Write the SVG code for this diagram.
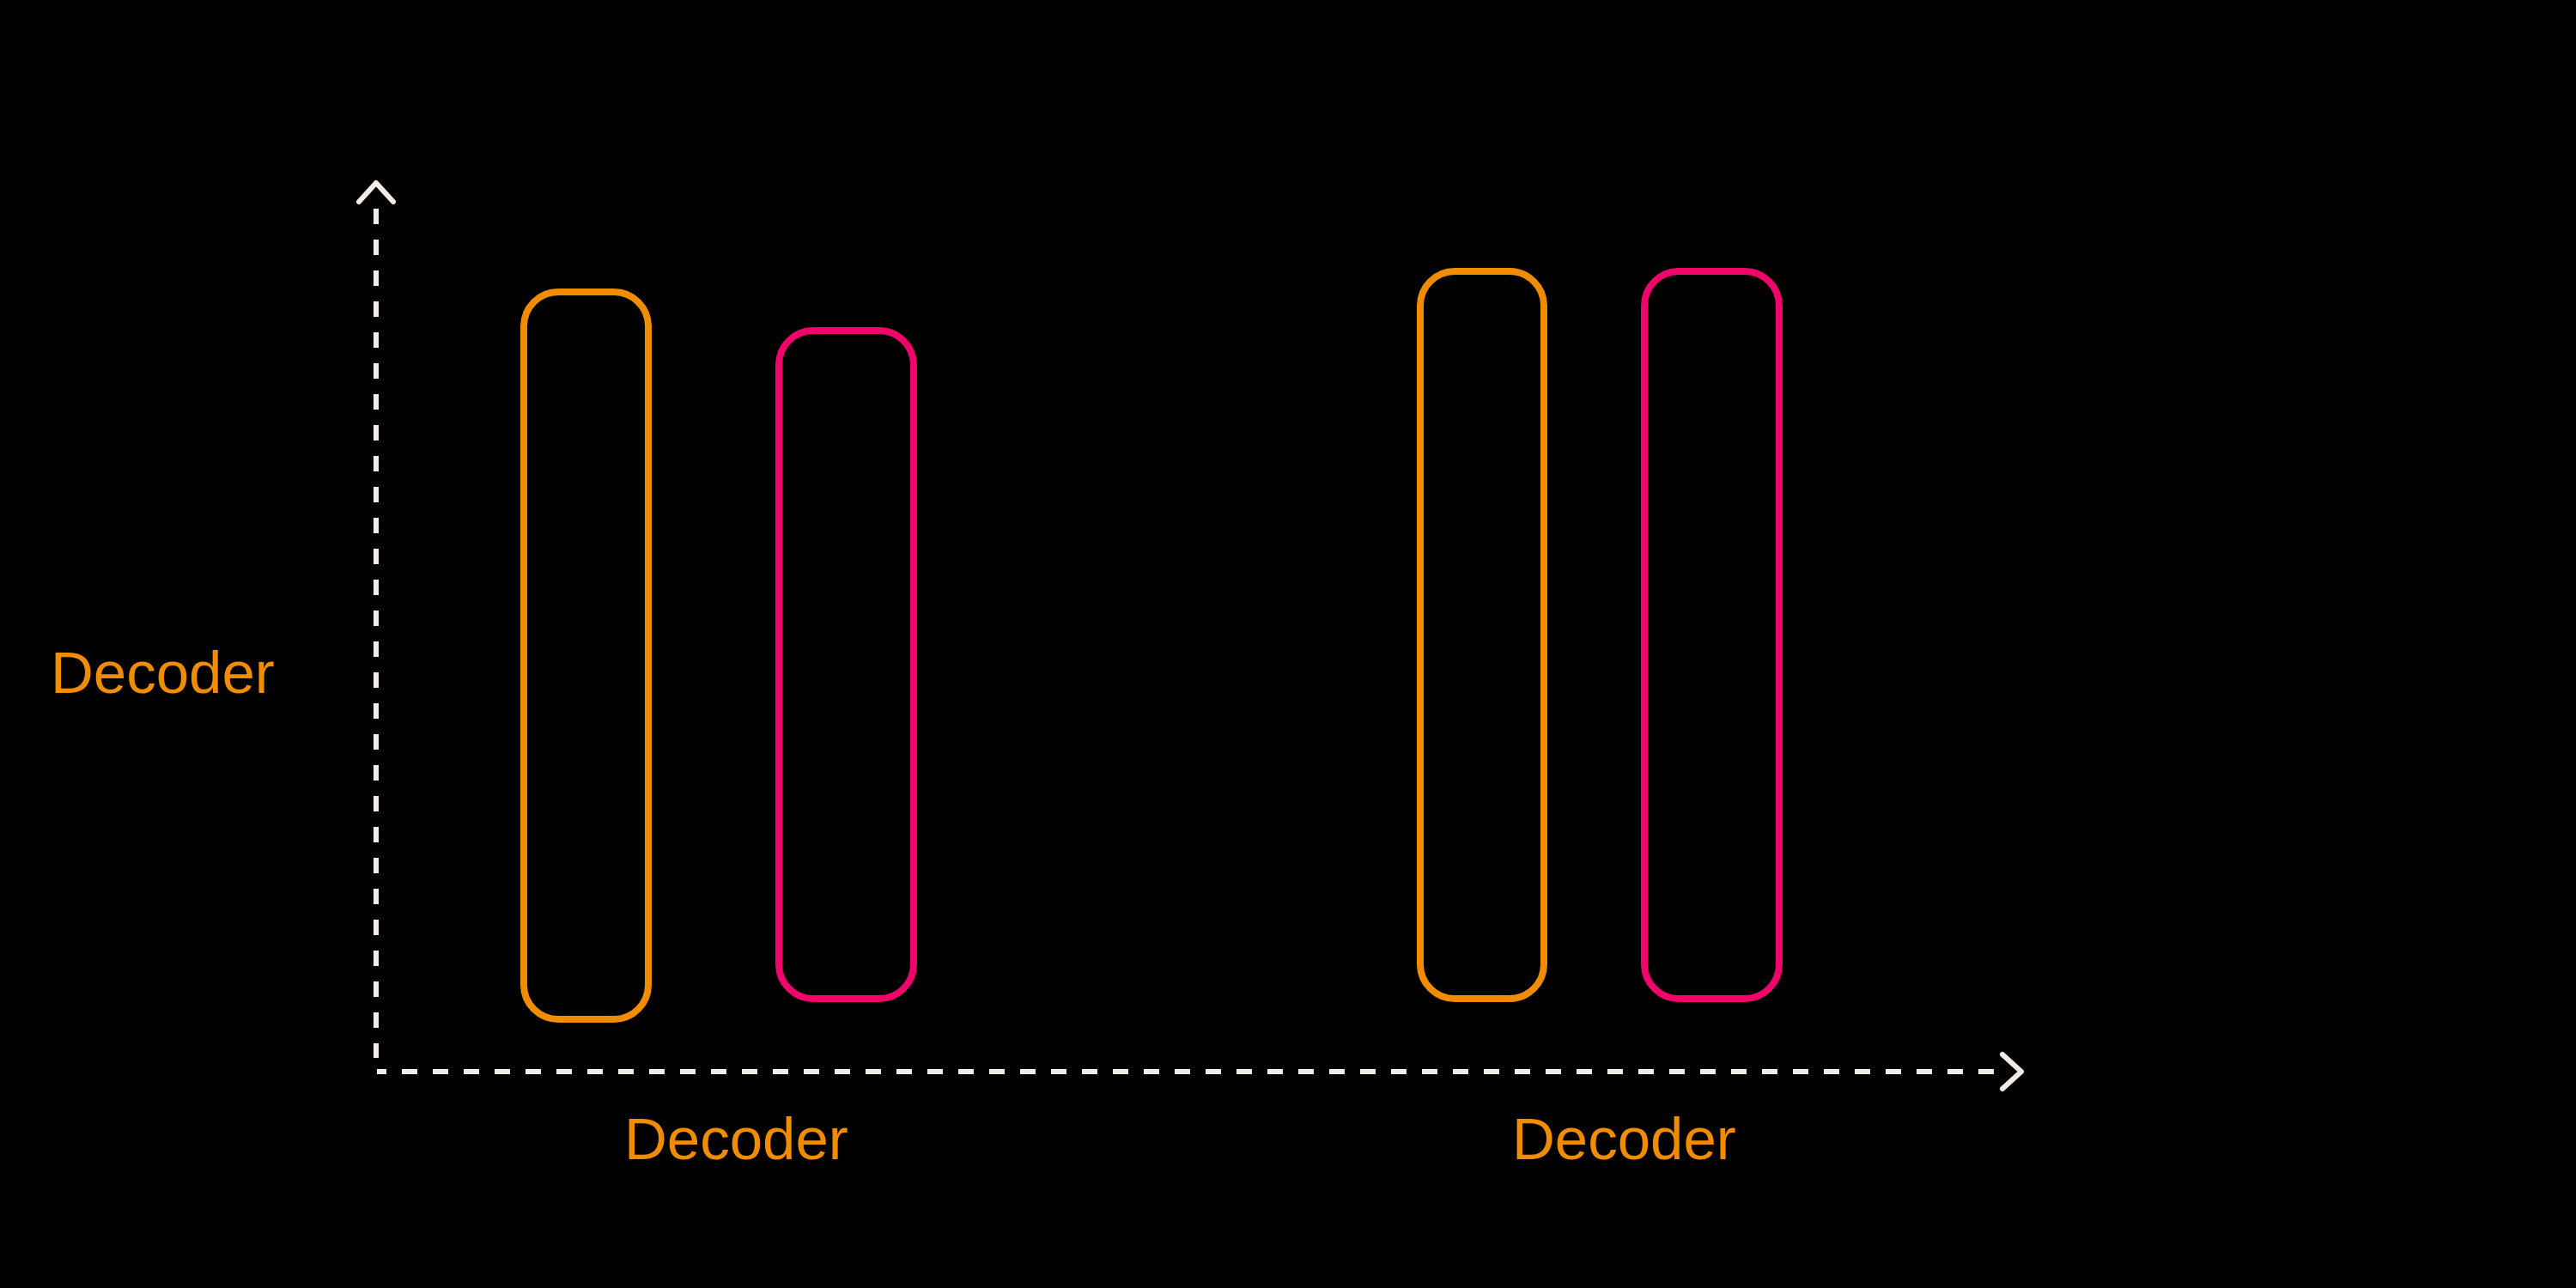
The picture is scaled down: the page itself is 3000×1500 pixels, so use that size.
<svg xmlns="http://www.w3.org/2000/svg" width="3000" height="1500" viewBox="0 0 3000 1500">
  <style>
    .axis { fill: none; stroke: #F2ECE6; stroke-width: 6; }
    .dash { stroke-dasharray: 18 18; }
    .head { fill: none; stroke: #F2ECE6; stroke-width: 6; stroke-linecap: round; stroke-linejoin: round; }
    .orange { fill: none; stroke: #F08C00; stroke-width: 8; }
    .pink { fill: none; stroke: #F0056A; stroke-width: 8; }
    .label { font-family: "Liberation Sans", Arial, sans-serif; font-size: 69px; fill: #F08C00; }
  </style>
  <rect x="0" y="0" width="3000" height="1500" fill="#000000"/>
  <g id="connectors">
    <line class="axis dash" x1="438" y1="243" x2="438" y2="1232"/>
    <polyline class="head" points="418,235 438,213 458,235"/>
    <line class="axis dash" x1="439" y1="1248" x2="2340" y2="1248" stroke-dashoffset="7"/>
    <polyline class="head" points="2332,1228 2354,1248 2332,1268"/>
  </g>
  <g id="bar-orange-1">
    <rect class="orange" x="610" y="340" width="145" height="847" rx="40" ry="40"/>
  </g>
  <g id="bar-pink-1">
    <rect class="pink" x="907" y="385" width="157" height="778" rx="40" ry="40"/>
  </g>
  <g id="bar-orange-2">
    <rect class="orange" x="1654" y="316" width="144" height="847" rx="40" ry="40"/>
  </g>
  <g id="bar-pink-2">
    <rect class="pink" x="1915" y="316" width="157" height="847" rx="40" ry="40"/>
  </g>
  <g id="label-y">
    <text class="label" x="59" y="807">Decoder</text>
  </g>
  <g id="label-x1">
    <text class="label" x="727" y="1350">Decoder</text>
  </g>
  <g id="label-x2">
    <text class="label" x="1761" y="1350">Decoder</text>
  </g>
</svg>
